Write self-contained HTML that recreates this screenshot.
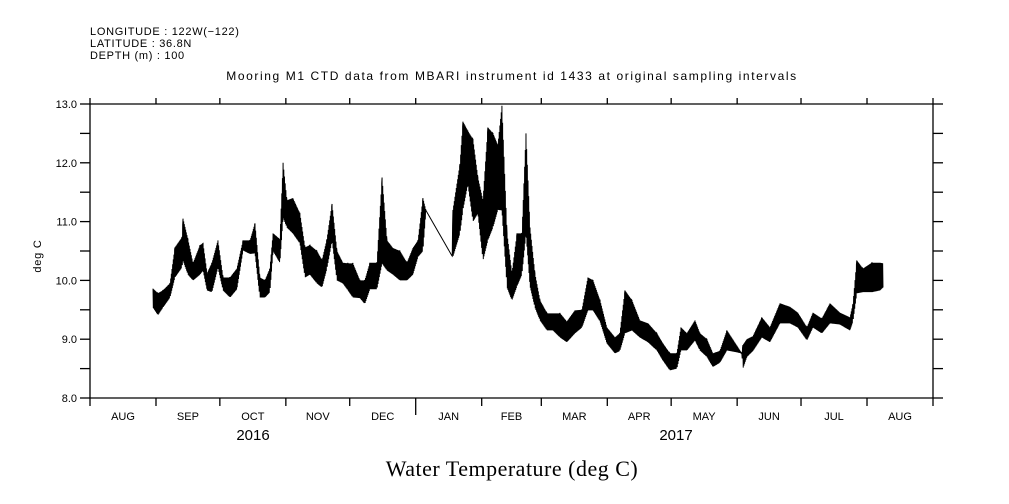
<!DOCTYPE html>
<html><head><meta charset="utf-8"><style>
html,body{margin:0;padding:0;background:#fff;}
svg{display:block;font-family:"Liberation Sans",sans-serif;}
</style></head><body>
<svg id="chart" width="1009" height="504" viewBox="0 0 1009 504">
<g font-size="11" fill="#000">
<text x="90" y="35" letter-spacing="0.7">LONGITUDE : 122W(−122)</text>
<text x="90" y="47" letter-spacing="0.7">LATITUDE : 36.8N</text>
<text x="90" y="59" letter-spacing="0.7">DEPTH (m) : 100</text>
<text x="512" y="80" text-anchor="middle" font-size="12" letter-spacing="1.6">Mooring M1 CTD data from MBARI instrument id 1433 at original sampling intervals</text>
</g>
<g id="axes"></g>
<path id="series" fill="none" stroke="#000" stroke-width="1"/>
<text transform="translate(41,256) rotate(-90)" text-anchor="middle" font-size="11" letter-spacing="0.8">deg C</text>
<text x="253" y="440" text-anchor="middle" font-size="15">2016</text>
<text x="676" y="440" text-anchor="middle" font-size="15">2017</text>
<text x="512" y="476" text-anchor="middle" font-family="'Liberation Serif',serif" font-size="22" letter-spacing="0.5">Water Temperature (deg C)</text>
</svg>
<script>
// days since 2016-08-01
const days=[29.6,31.9,34.3,37.6,39.9,43.2,43.7,46.0,48.4,51.7,53.1,55.0,57.3,60.1,62.5,65.8,69.0,71.9,75.2,77.5,79.8,82.2,84.5,86.0,89.2,90.7,92.5,95.3,98.6,101.0,103.3,106.6,109.0,111.3,113.7,116.0,118.8,121.2,123.5,126.8,129.1,131.5,134.8,137.2,139.5,142.3,145.6,148.9,151.7,154.1,156.4,157.8,170.0,170.5,173.8,175.2,177.5,179.9,182.2,184.6,186.9,189.3,191.6,193.5,195.9,198.2,200.6,202.9,204.8,206.7,209.0,211.4,214.7,217.5,220.8,224.0,227.8,231.1,233.9,236.3,239.6,242.8,246.6,248.9,251.3,254.6,258.3,262.1,266.3,269.1,272.4,275.7,277.6,280.4,284.2,286.5,289.8,292.6,295.9,299.2,306.2,306.7,308.6,311.4,315.6,319.4,324.1,328.8,332.5,336.8,339.6,343.8,347.6,352.3,357.0,358.4,360.2,363.1,367.3,371.1,372.5];
const hiVals=[9.86,9.78,9.83,9.95,10.56,10.73,11.05,10.7,10.29,10.6,10.63,10.12,10.3,10.68,10.05,10.05,10.2,10.68,10.68,10.97,10.05,10.0,10.2,10.8,10.7,12.0,11.36,11.4,11.14,10.56,10.6,10.5,10.34,10.7,11.3,10.5,10.3,10.29,10.29,10.0,10.0,10.3,10.3,11.75,10.68,10.55,10.5,10.3,10.55,10.68,11.4,11.19,10.42,11.2,11.98,12.7,12.54,12.4,11.75,11.36,12.6,12.5,12.3,12.97,10.8,10.12,10.8,10.8,12.5,10.9,10.12,9.66,9.44,9.44,9.44,9.3,9.49,9.5,10.05,10.0,9.66,9.2,9.03,9.1,9.83,9.66,9.32,9.27,9.1,8.93,8.76,8.76,9.2,9.1,9.32,9.1,9.0,8.76,8.8,9.15,8.76,8.9,9.0,9.05,9.37,9.2,9.61,9.55,9.45,9.2,9.45,9.35,9.61,9.45,9.37,9.6,10.34,10.2,10.3,10.3,10.29];
const loVals=[9.54,9.41,9.54,9.71,10.05,10.22,10.34,10.1,10.0,10.1,10.17,9.83,9.8,10.22,9.83,9.71,9.85,10.51,10.45,10.46,9.71,9.71,9.8,10.5,10.3,11.07,10.9,10.8,10.63,10.05,10.1,9.95,9.88,10.2,10.68,10.0,9.95,9.83,9.71,9.7,9.6,9.85,9.85,10.29,10.17,10.1,10.0,10.0,10.1,10.4,10.5,11.19,10.42,10.4,10.8,11.2,11.64,11.0,11.14,10.34,10.68,10.9,11.2,11.19,9.88,9.66,9.9,10.1,10.8,9.9,9.54,9.32,9.15,9.15,9.03,8.95,9.1,9.2,9.49,9.49,9.3,8.93,8.76,8.8,9.1,9.15,9.03,8.95,8.81,8.64,8.47,8.5,8.81,8.81,8.98,8.81,8.7,8.53,8.6,8.81,8.76,8.5,8.7,8.8,9.03,8.95,9.27,9.27,9.2,8.98,9.2,9.1,9.27,9.25,9.15,9.3,9.78,9.8,9.8,9.83,9.88];
const monthLabels=["AUG","SEP","OCT","NOV","DEC","JAN","FEB","MAR","APR","MAY","JUN","JUL","AUG"];
const monthDays=[0,31,61,92,122,153,184,212,243,273,304,334,365,396];
const yTicks=[8,9,10,11,12,13];

const L=90,R=933,T=104,B=398,D0=0,D1=396,Y0=8,Y1=13;
const xs=d=>L+(d-D0)/(D1-D0)*(R-L);
const ys=v=>B-(v-Y0)/(Y1-Y0)*(B-T);
const NS="http://www.w3.org/2000/svg";
const ax=document.getElementById('axes');
function line(x1,y1,x2,y2,name){const l=document.createElementNS(NS,'line');
l.setAttribute('x1',x1);l.setAttribute('y1',y1);l.setAttribute('x2',x2);l.setAttribute('y2',y2);
l.setAttribute('stroke','#000');l.setAttribute('stroke-width','1.3');


ax.appendChild(l);}
function text(x,y,s,anchor,name){const t=document.createElementNS(NS,'text');
t.setAttribute('x',x);t.setAttribute('y',y);t.setAttribute('text-anchor',anchor);t.setAttribute('font-size','11');t.textContent=s;


ax.appendChild(t);}
line(L,T,R,T,'top-axis');line(L,B,R,B,'bottom-axis');line(L,T,L,B,'left-axis');line(R,T,R,B,'right-axis');
monthDays.forEach((d,i)=>{const x=xs(d);
 line(x,B,x,d===153?415:406,'x-tick');line(x,T,x,T-6,'x-tick-top');
 if(i<monthLabels.length){text((xs(d)+xs(monthDays[i+1]))/2,420,monthLabels[i],'middle','month-label');}
});
for(let v=Y0;v<=Y1+0.001;v+=0.5){const y=ys(v);line(L-10,y,L,y,'y-tick');line(R,y,R+10,y,'y-tick-right');}
yTicks.forEach(v=>text(L-13,ys(v)+4,v.toFixed(1),'end','y-tick-label'));
// series: zigzag between low and high values
let p='';
for(let i=0;i<days.length-1;i++){
 const x0=xs(days[i]),x1=xs(days[i+1]);const n=Math.max(1,Math.round((x1-x0)*3));
 for(let k=0;k<n;k++){const f=k/n;const x=x0+(x1-x0)*f;
  const hi=hiVals[i]+(hiVals[i+1]-hiVals[i])*f,lo=loVals[i]+(loVals[i+1]-loVals[i])*f;
  const v=(k%2===0)?hi:lo;p+=(p?'L':'M')+x.toFixed(2)+','+ys(v).toFixed(2);}
}
const last=days.length-1;p+='L'+xs(days[last]).toFixed(2)+','+ys(loVals[last]).toFixed(2);
document.getElementById('series').setAttribute('d',p);
</script>
</body></html>
